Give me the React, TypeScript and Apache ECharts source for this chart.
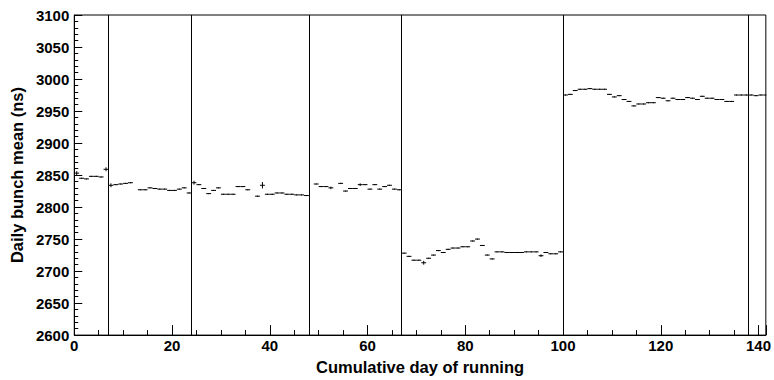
import React, { useEffect, useRef } from "react";
import * as echarts from "echarts";

// Start day of each running period and daily bunch means (ns); null = no data that day
const runStartDays = [0, 7, 24, 48, 67, 100];
const run1 = [2853, 2845, 2844, 2848, 2848, 2847, 2859];
const run2 = [2834, 2835, 2836, 2837, 2838, null, 2827, 2827, 2830, 2829, 2828, 2828, 2826, 2826, 2828, 2830, 2822];
const run3 = [2838, 2835, 2829, 2821, 2826, 2830, 2820, 2820, 2820, 2832, 2832, 2827, null, 2817, 2834, 2820, 2820, 2822, 2822, 2820, 2820, 2819, 2819, 2818];
const run4 = [null, 2836, 2832, 2832, 2830, null, 2837, 2825, 2829, 2829, 2835, 2835, 2828, 2835, 2828, 2832, 2834, 2828, 2827];
const run5 = [2728, 2723, 2717, 2717, 2713, 2720, 2725, 2732, 2729, 2734, 2736, 2736, 2738, 2738, 2747, 2750, 2740, 2725, 2719, 2730, 2730, 2729, 2729, 2729, 2729, 2730, 2730, 2730, 2724, 2729, 2727, 2727, 2730];
const run6 = [2975, 2976, 2982, 2984, 2984, 2985, 2984, 2984, 2984, 2976, 2972, 2974, 2968, 2965, 2958, 2961, 2961, 2963, 2963, 2971, 2970, 2966, 2970, 2968, 2968, 2971, 2970, 2968, 2973, 2970, 2970, 2968, 2968, 2965, 2965, 2975, 2975, 2975, 2975, 2974, 2975, 2975];
const runs = [run1, run2, run3, run4, run5, run6];

// Error bars (ns): most days are tiny; a few days are larger
const defaultError = 0.8;
const errorDays = [0, 6, 7, 24, 38, 52, 58, 71, 95];
const errorValues = [3, 3, 3, 3, 5, 2, 2, 3, 2];

// Vertical lines separating running periods
const periodBoundaries = [7, 24, 48, 67, 100, 138];

const xMin = 0;
const xMax = 141.5;
const yMin = 2600;
const yMax = 3100;

export default function App() {
  const ref = useRef<HTMLDivElement>(null);

  useEffect(() => {
    document.body.style.margin = "0";
    if (!ref.current) return;
    const chart = echarts.init(ref.current, undefined, { renderer: "svg" });

    const data: number[][] = [];
    runs.forEach((vals, r) => {
      vals.forEach((v, i) => {
        if (v == null) return;
        const day = runStartDays[r] + i;
        const k = errorDays.indexOf(day);
        const err = k >= 0 ? errorValues[k] : defaultError;
        data.push([day, v as number, err]);
      });
    });

    const font = "'Liberation Sans', Arial, Helvetica, sans-serif";
    const labelStyle = { fontFamily: font, fontWeight: "bold" as const, fontSize: 15, color: "#000" };
    const titleStyle = { fontFamily: font, fontWeight: "bold" as const, fontSize: 16.5, color: "#000" };

    chart.setOption({
      animation: false,
      grid: {
        left: 73,
        right: 4,
        top: 15,
        bottom: 39,
        show: true,
        borderColor: "#000",
        borderWidth: 1,
        backgroundColor: "transparent",
      },
      xAxis: {
        type: "value",
        min: xMin,
        max: xMax,
        interval: 20,
        name: "Cumulative day of running",
        nameLocation: "middle",
        nameGap: 19,
        nameTextStyle: titleStyle,
        axisLine: { show: true, lineStyle: { color: "#000", width: 1 } },
        axisTick: { show: true, inside: true, length: 10, lineStyle: { color: "#000" } },
        minorTick: { show: true, splitNumber: 4, length: 5, lineStyle: { color: "#000" } },
        axisLabel: {
          ...labelStyle,
          margin: 3,
          showMaxLabel: false,
          formatter: (v: number) => (v % 20 === 0 ? String(v) : ""),
        },
        splitLine: { show: false },
        minorSplitLine: { show: false },
      },
      yAxis: {
        type: "value",
        min: yMin,
        max: yMax,
        interval: 50,
        name: "Daily bunch mean (ns)",
        nameLocation: "middle",
        nameGap: 47,
        nameRotate: 90,
        nameTextStyle: titleStyle,
        axisLine: { show: true, lineStyle: { color: "#000", width: 1 } },
        axisTick: { show: true, inside: true, length: 8, lineStyle: { color: "#000" } },
        minorTick: { show: true, splitNumber: 5, length: 4, lineStyle: { color: "#000" } },
        axisLabel: { ...labelStyle, margin: 5, formatter: (v: number) => String(v) },
        splitLine: { show: false },
        minorSplitLine: { show: false },
      },
      series: [
        {
          type: "custom",
          encode: { x: 0, y: 1 },
          data,
          clip: true,
          silent: true,
          renderItem: (params: any, api: any) => {
            const day = api.value(0);
            const v = api.value(1);
            const e = api.value(2);
            const a = api.coord([day, v]);
            const b = api.coord([day + 1, v]);
            const cs = params.coordSys;
            const right = cs.x + cs.width;
            const x2 = Math.min(b[0], right);
            const xm = (a[0] + b[0]) / 2;
            const t = api.coord([day + 0.5, v + e]);
            const bt = api.coord([day + 0.5, v - e]);
            return {
              type: "group",
              children: [
                {
                  type: "line",
                  shape: { x1: a[0], y1: a[1], x2, y2: a[1] },
                  style: { stroke: "#000", lineWidth: 1 },
                },
                {
                  type: "line",
                  shape: { x1: xm, y1: t[1], x2: xm, y2: bt[1] },
                  style: { stroke: "#000", lineWidth: 1 },
                },
              ],
            };
          },
          markLine: {
            silent: true,
            symbol: ["none", "none"],
            label: { show: false },
            lineStyle: { color: "#000", width: 1, type: "solid" },
            data: periodBoundaries.map((d) => ({ xAxis: d })),
          },
        },
      ],
    });

    return () => chart.dispose();
  }, []);

  return <div ref={ref} style={{ width: 774, height: 380 }} />;
}
